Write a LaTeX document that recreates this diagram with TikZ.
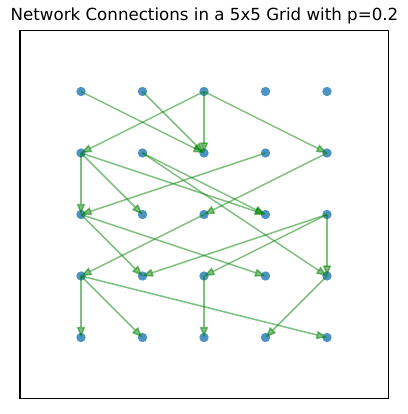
\documentclass[tikz,border=0pt]{standalone}
\usepackage{fontspec}
\setmainfont{DejaVu Sans}
\usetikzlibrary{arrows.meta}
\definecolor{nodeblue}{HTML}{1F77B4}
\definecolor{edgegreen}{HTML}{008000}
\begin{document}
\begin{tikzpicture}[x=0.75pt,y=-0.75pt,
  gnode/.style={circle,fill=nodeblue,fill opacity=0.8,inner sep=0pt,minimum size=7pt},
  edge/.style={color=edgegreen,opacity=0.5,line width=1.1pt,
    -{Triangle[length=8pt,width=6.2pt]}}]
\useasboundingbox (0,0) rectangle (407,414);
\draw[line width=0.83pt] (20,30.5) rectangle (388.5,398.5);
\node[font=\fontsize{12.5}{15}\selectfont,anchor=base,inner sep=0pt] (title) at (204.5,21) {Network Connections in a 5x5 Grid with p=0.2};
\foreach \c in {0,...,4}{
  \foreach \r in {0,...,4}{
    \node[gnode] (n\c\r) at ({81+61.5*\c},{91.5+61.5*\r}) {};
  }
}
% row 0
\draw[edge] (n00.center) -- (n21.center);
\draw[edge] (n10.center) -- (n21.center);
\draw[edge] (n20.center) -- (n01.center);
\draw[edge] (n20.center) -- (n21.center);
\draw[edge] (n20.center) -- (n41.center);
% row 1
\draw[edge] (n01.center) -- (n02.center);
\draw[edge] (n01.center) -- (n12.center);
\draw[edge] (n01.center) -- (n32.center);
\draw[edge] (n11.center) -- (n32.center);
\draw[edge] (n11.center) -- (n43.center);
\draw[edge] (n31.center) -- (n02.center);
\draw[edge] (n41.center) -- (n22.center);
% row 2
\draw[edge] (n22.center) -- (n03.center);
\draw[edge] (n02.center) -- (n13.center);
\draw[edge] (n02.center) -- (n33.center);
\draw[edge] (n42.center) -- (n13.center);
\draw[edge] (n42.center) -- (n23.center);
\draw[edge] (n42.center) -- (n43.center);
% row 3
\draw[edge] (n03.center) -- (n04.center);
\draw[edge] (n03.center) -- (n14.center);
\draw[edge] (n03.center) -- (n44.center);
\draw[edge] (n23.center) -- (n24.center);
\draw[edge] (n43.center) -- (n34.center);
\end{tikzpicture}
\end{document}
